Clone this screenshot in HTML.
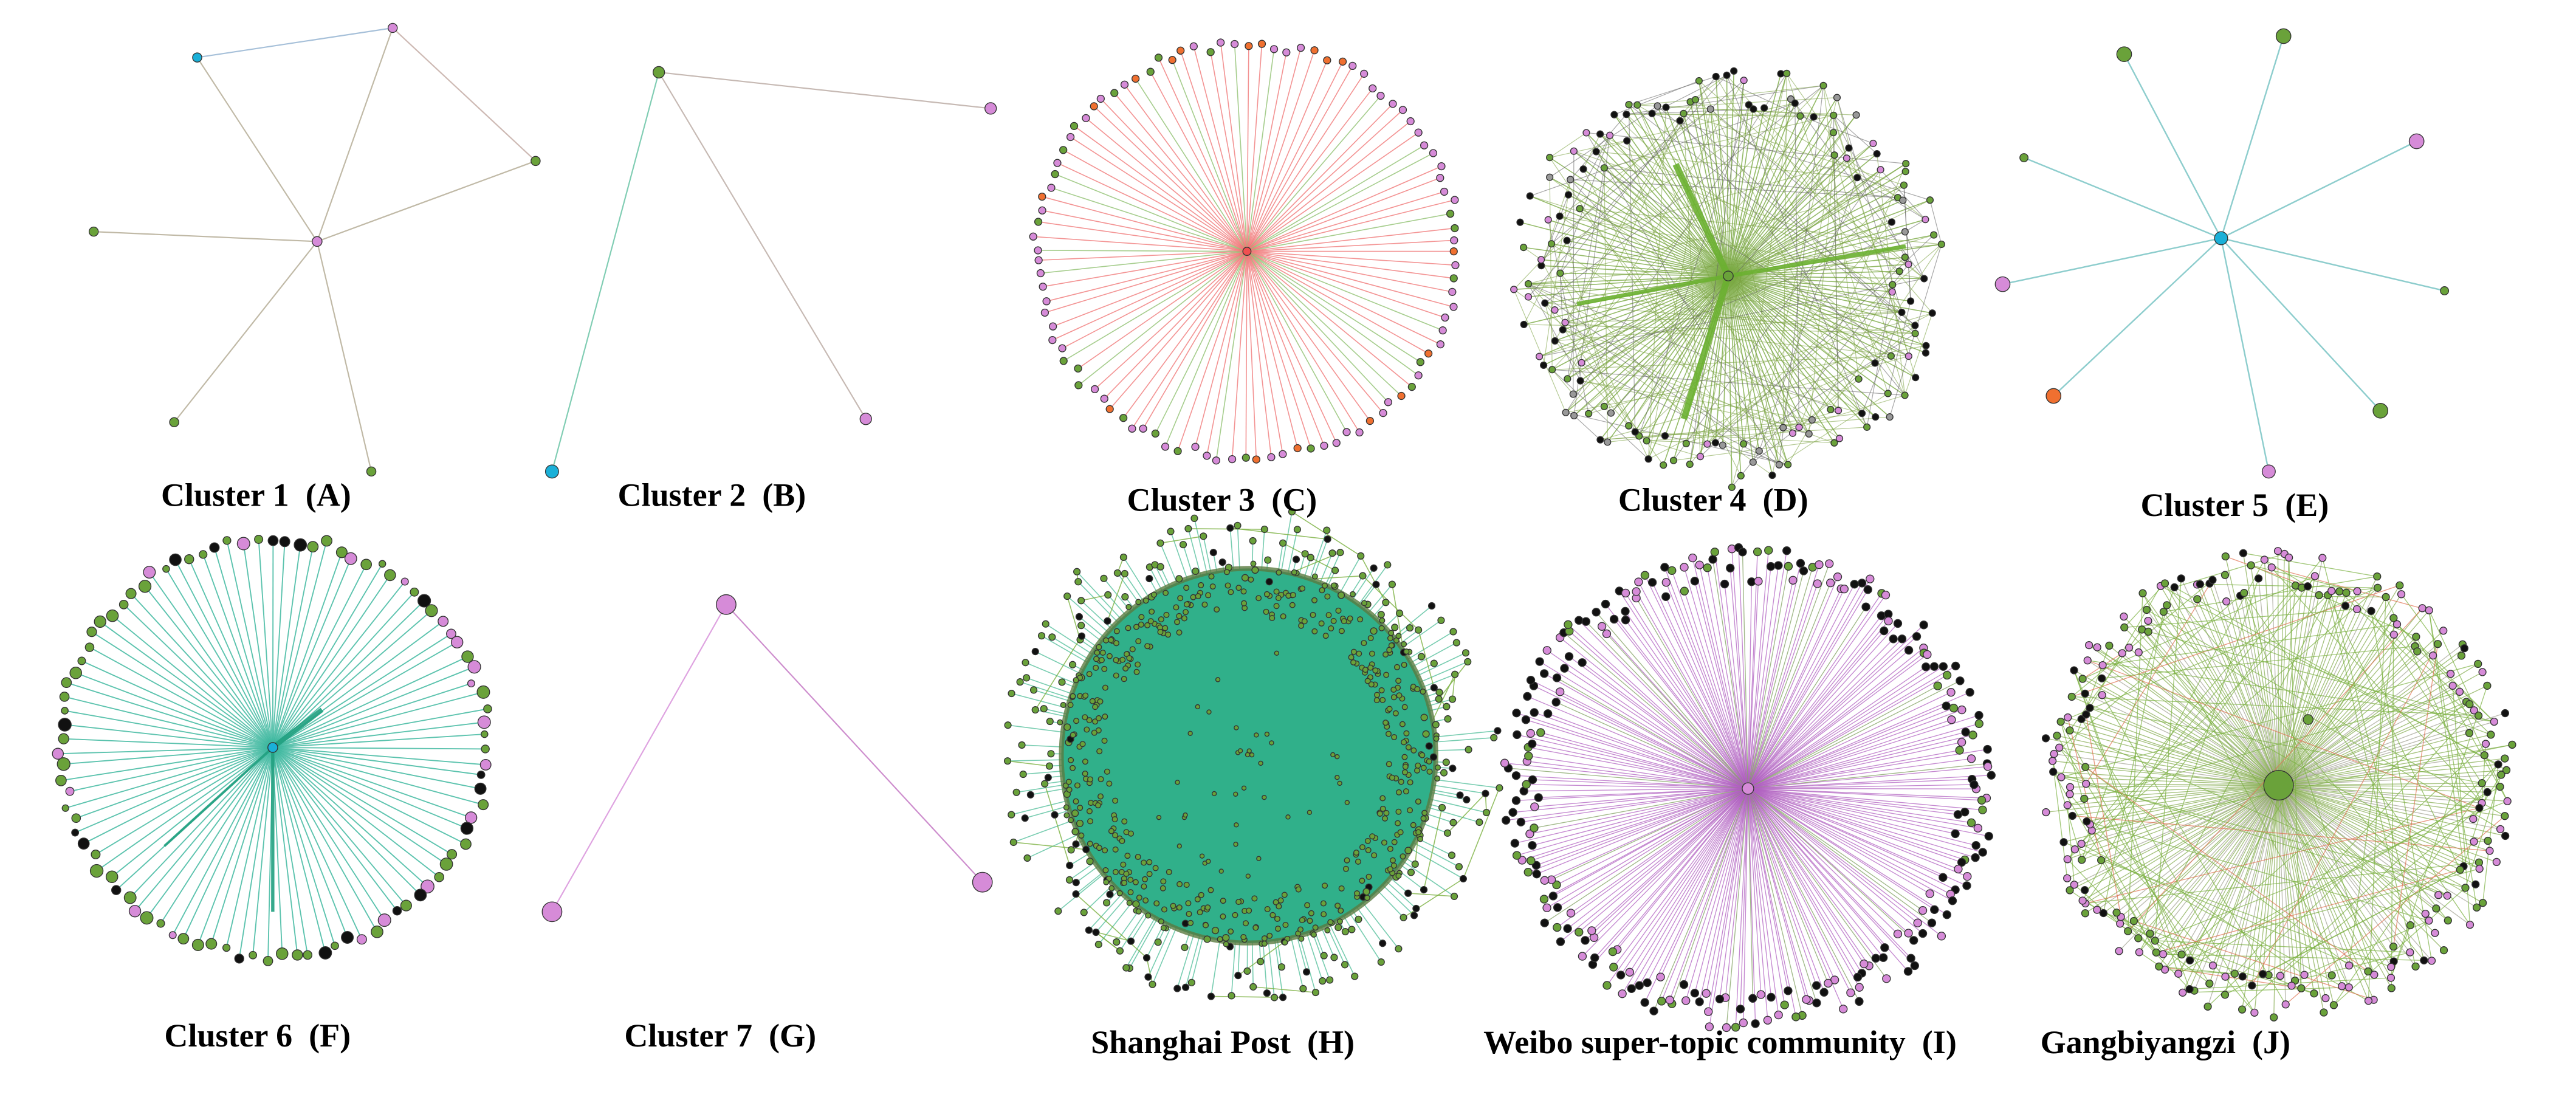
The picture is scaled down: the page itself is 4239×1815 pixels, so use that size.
<!DOCTYPE html>
<html><head><meta charset="utf-8">
<style>
html,body{margin:0;padding:0;background:#fff;}
svg{display:block;}
text{font-family:"Liberation Serif",serif;font-weight:bold;font-size:20px;fill:#000;white-space:pre;}
</style></head>
<body>
<svg id="s" width="4239" height="1815" viewBox="0 0 1568 671.4" xmlns="http://www.w3.org/2000/svg">
<rect width="1568" height="672" fill="#fff"/>
<g id="g"></g>
<text x="98" y="308" xml:space="preserve">Cluster 1  (A)</text>
<text x="376" y="308" xml:space="preserve">Cluster 2  (B)</text>
<text x="686" y="311" xml:space="preserve">Cluster 3  (C)</text>
<text x="985" y="311" xml:space="preserve">Cluster 4  (D)</text>
<text x="1303" y="314" xml:space="preserve">Cluster 5  (E)</text>
<text x="100" y="637" xml:space="preserve">Cluster 6  (F)</text>
<text x="380" y="637" xml:space="preserve">Cluster 7  (G)</text>
<text x="664" y="641" xml:space="preserve">Shanghai Post  (H)</text>
<text x="903" y="641" xml:space="preserve">Weibo super-topic community  (I)</text>
<text x="1242" y="641" xml:space="preserve">Gangbiyangzi  (J)</text>
</svg>
<script>
var G=document.getElementById('g'),out=[];
var seed=7;function r(){seed=(seed*16807)%2147483647;return seed/2147483647;}
function L(x1,y1,x2,y2,c,w,o){out.push('<line x1="'+x1.toFixed(1)+'" y1="'+y1.toFixed(1)+'" x2="'+x2.toFixed(1)+'" y2="'+y2.toFixed(1)+'" stroke="'+c+'" stroke-width="'+(w||0.6)+'" stroke-opacity="'+(o||0.8)+'"/>');}
var nodes=[];
function N(x,y,rad,c){nodes.push('<circle cx="'+x.toFixed(1)+'" cy="'+y.toFixed(1)+'" r="'+rad+'" fill="'+c+'" stroke="#333" stroke-width="0.5"/>');}
var GR='#6aa23a',PK='#d68bd8',CY='#1ab0d8',OR='#f07030',BK='#111';
var A=[[120,35,CY],[239,17,PK],[326,98,GR],[57,141,GR],[106,257,GR],[226,287,GR]];
A.forEach(function(p){L(193,147,p[0],p[1],'#b0a890',0.8);N(p[0],p[1],2.8,p[2]);});
L(120,35,239,17,'#90b0d0',0.8);L(239,17,326,98,'#c0a8a0',0.8);N(193,147,3,PK);
[[603,66,PK],[527,255,PK],[336,287,CY]].forEach(function(p){L(401,44,p[0],p[1],p[2]==CY?'#60c0a0':'#b8a8a0',0.8);N(p[0],p[1],p[2]==CY?4:3.5,p[2]);});N(401,44,3.5,GR);
[[1293,33,GR,4.5],[1390,22,GR,4.5],[1471,86,PK,4.5],[1232,96,GR,2.5],[1219,173,PK,4.5],[1488,177,GR,2.5],[1250,241,OR,4.5],[1449,250,GR,4.5],[1381,287,PK,4]].forEach(function(p){L(1352,145,p[0],p[1],'#70c0c0',0.9);N(p[0],p[1],p[3],p[2]);});N(1352,145,4,CY);
L(442,368,336,555,PK,0.8);L(442,368,598,537,'#c070c0',0.8);N(442,368,6,PK);N(336,555,6,PK);N(598,537,6,PK);
function radial(cx,cy,R,n,lc,ncols,nr,jit,lw,lo){var pts=[];for(var i=0;i<n;i++){var a=i/n*2*Math.PI+r()*0.02;var rr=R*(1-jit*r());var x=cx+rr*Math.cos(a),y=cy+rr*Math.sin(a)*0.98;pts.push([x,y]);L(cx,cy,x,y,typeof lc=='function'?lc():lc,lw||0.6,lo||0.8);}
pts.forEach(function(p){var c=ncols[Math.floor(r()*ncols.length)];N(p[0],p[1],typeof nr=='function'?nr():nr,c);});return pts;}
radial(759,153,132,100,function(){return r()<0.8?'#f07878':'#90c070';},[PK,PK,PK,PK,GR,OR],2.2,0.05,0.6,0.8);N(759,153,2.5,'#f05050');
var pD=radial(1052,168,132,150,'#7aaa44',[BK,BK,PK,GR,GR,'#999'],2,0.25,0.6,0.8);
for(var i=0;i<220;i++){var a=pD[Math.floor(r()*pD.length)],b=pD[Math.floor(r()*pD.length)];L(a[0],a[1],b[0],b[1],r()<0.7?'#7aa040':'#606060',0.45,0.55);}
L(1020,100,1052,168,'#6ab030',4,0.9);L(1052,168,1025,255,'#6ab030',4,0.9);L(960,185,1052,168,'#6ab030',2.5,0.9);L(1052,168,1160,150,'#6ab030',2.5,0.9);N(1052,168,3,GR);
radial(166,455,133,95,'#40b8a0',[GR,GR,GR,GR,PK,BK],function(){return 2+r()*2;},0.05,0.7,0.85);
L(166,455,196,432,'#20a080',3,0.9);L(166,455,166,555,'#20a080',2,0.9);L(166,455,100,515,'#20a080',1.5,0.9);N(166,455,3,CY);
var pH=radial(760,460,155,220,'#40b890',[GR,GR,GR,BK],2,0.3,0.6,0.7);
for(var i=0;i<260;i++){var a=pH[Math.floor(r()*pH.length)],b=pH[Math.floor(r()*pH.length)];if(Math.hypot(a[0]-b[0],a[1]-b[1])<60)L(a[0],a[1],b[0],b[1],'#7ab040',0.6,0.8);}
out.push('<circle cx="760" cy="460" r="114" fill="#30b08a" stroke="#5a7a40" stroke-width="3" stroke-opacity="0.8"/>');
for(var i=0;i<450;i++){var a=r()*6.283,rr=85+r()*32;N(760+rr*Math.cos(a),460+rr*Math.sin(a),1.6,GR);}
for(var i=0;i<40;i++){var a=r()*6.283,rr=r()*75;N(760+rr*Math.cos(a),460+rr*Math.sin(a),1.3,GR);}
radial(1064,480,150,260,function(){return r()<0.85?'#b060c0':'#80a060';},[BK,BK,BK,PK,PK,GR],2.4,0.15,0.5,0.75);N(1064,480,3.5,PK);
var pJ=radial(1387,478,146,230,function(){return r()<0.75?'#80a848':'#a0a090';},[PK,PK,GR,GR,BK],2.2,0.2,0.5,0.7);
for(var i=0;i<160;i++){var a=pJ[Math.floor(r()*pJ.length)],b=pJ[Math.floor(r()*pJ.length)];L(a[0],a[1],b[0],b[1],r()<0.8?'#7ab040':'#e07050',0.5,0.7);}
N(1387,478,9,GR);N(1405,438,3,GR);
G.innerHTML=out.join('')+nodes.join('');
</script>
</body></html>
